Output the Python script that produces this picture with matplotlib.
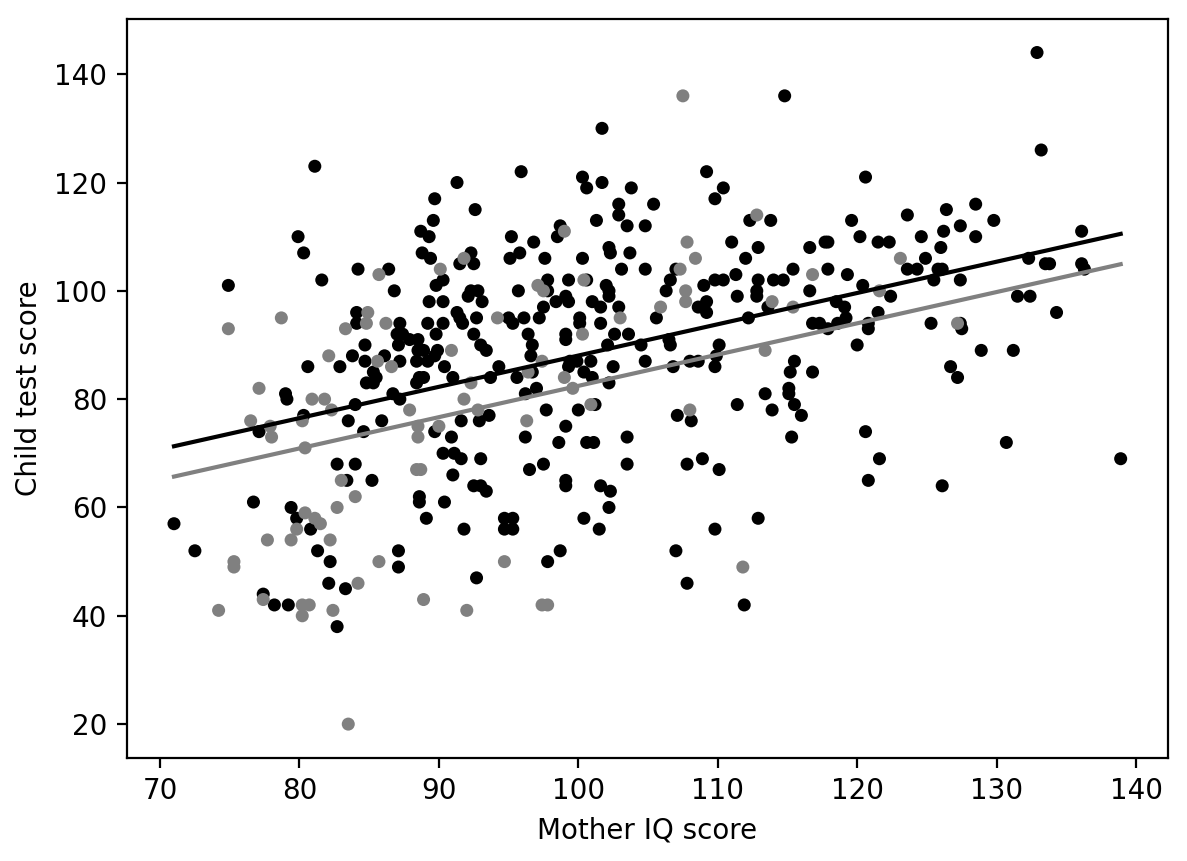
import numpy as np
import matplotlib
matplotlib.use("Agg")
import matplotlib.pyplot as plt

# mothers who finished high school (black points)
mom_iq_hs = [
    81.1, 91.3, 89.7, 92.6, 89.6, 88.7, 89.3, 79.9, 80.3, 88.8, 89.4, 92.3, 92.5, 91.5, 84.2, 86.4,
    74.9, 81.6, 86.8, 89.8, 90.3, 92.1, 89.3, 90.3, 91.3, 84.1, 84.1, 87.2, 89.2, 90.3, 91.5, 91.7,
    92.7, 87.0, 87.4, 87.9, 88.5, 89.8, 92.5, 84.7, 87.1, 88.5, 88.9, 89.9, 93.0, 83.8, 86.1, 84.7,
    87.2, 88.4, 89.2, 89.7, 80.6, 82.9, 90.4, 85.3, 85.5, 84.8, 85.3, 88.6, 88.4, 88.9, 91.0, 79.0,
    79.1, 86.7, 87.2, 84.0, 77.1, 80.3, 83.5, 84.6, 85.9, 89.7, 90.9, 91.6, 90.3, 91.1, 91.6,
    82.7, 84.0, 83.4, 85.2, 91.0, 92.5, 88.6, 88.6, 90.4, 89.1, 91.8, 76.7, 71.0, 72.5, 79.4, 79.8,
    80.8, 81.3, 82.2, 87.1, 87.1, 82.1, 83.3, 77.4, 78.2, 79.2, 82.7,
    101.7, 95.9, 100.3, 100.6, 101.7, 103.8, 109.2, 110.4, 109.8, 102.9, 102.9, 105.4, 101.3, 103.5,
    104.8, 112.3, 113.8, 98.7, 98.5, 95.2, 96.8, 95.8, 95.1, 97.6, 102.2, 102.3, 103.7, 100.3, 103.1,
    104.8, 111.0, 112.9, 112.0, 107.0, 106.6, 106.3, 111.3, 109.8, 110.4, 109.0, 112.9, 112.8, 112.8,
    111.4, 114.0, 113.6, 97.8, 99.3, 100.6, 102.0, 102.2, 102.2, 95.7, 97.8, 92.3, 92.8, 93.1, 98.4,
    99.1, 99.3, 101.0, 101.6, 97.5, 97.2, 102.9, 108.6, 109.2, 109.2, 105.6, 112.2, 95.0, 95.3, 96.1,
    100.1, 100.1, 101.6, 96.4, 96.7, 96.6, 93.4, 99.1, 99.1, 102.6, 103.6, 104.5, 106.5, 106.6, 102.1,
    110.1, 109.9, 104.8, 102.5, 100.9, 100.4, 101.0, 99.4, 99.9, 99.3, 106.8, 108.0, 108.6, 109.8,
    94.3, 95.6, 96.7, 93.7,
    102.2, 96.2, 97.0, 92.9, 93.6, 97.7, 100.0, 101.2, 99.1, 96.2, 98.6, 100.6, 101.1, 103.5, 93.0,
    96.5, 97.5, 103.5, 99.1, 99.1, 93.0, 93.4, 101.6, 102.3, 102.2, 94.7, 95.3, 94.7, 95.3, 100.4,
    101.5, 98.7, 97.8, 92.7, 107.1, 108.1, 111.4, 113.4, 113.9, 107.8, 108.9, 110.1, 112.9, 109.8,
    107.0, 107.8, 111.9,
    133.2, 120.6, 119.6, 123.6, 126.4, 128.5, 129.8, 127.4, 126.2, 120.2, 124.6, 128.5, 136.1, 116.6,
    117.7, 117.9, 121.5, 122.3, 126.0, 124.9, 123.6, 124.3, 125.8, 126.1, 132.3, 133.5, 133.8, 136.1,
    136.3, 115.4, 117.9, 114.7, 119.3, 125.5, 127.4, 120.4, 116.6, 122.4, 118.5, 119.1, 119.2, 118.6,
    121.5, 116.8, 117.3, 117.9, 120.8, 120.8, 125.3, 127.4, 127.5, 131.5, 132.4, 134.3, 120.0, 128.9,
    131.2, 115.5, 115.2, 116.8, 126.7, 127.2, 115.1, 115.1, 115.5, 116.0, 115.3, 120.6, 130.7,
    121.6, 120.8, 126.1, 138.9, 114.8, 132.9,
]
kid_score_hs = [
    123, 120, 117, 115, 113, 111, 110, 110, 107, 107, 106, 107, 105, 105, 104, 104,
    101, 102, 100, 101, 102, 99, 98, 98, 96, 96, 94, 94, 94, 94, 95, 94,
    95, 92, 92, 91, 91, 92, 92, 90, 90, 89, 89, 89, 90, 88, 88, 87,
    87, 87, 87, 88, 86, 86, 86, 85, 84, 83, 83, 84, 83, 84, 84, 81,
    80, 81, 80, 79, 74, 77, 76, 74, 76, 74, 73, 76, 70, 70, 69,
    68, 68, 65, 65, 66, 64, 62, 61, 61, 58, 56, 61, 57, 52, 60, 58,
    56, 52, 50, 52, 49, 46, 45, 44, 42, 42, 38,
    130, 122, 121, 119, 120, 119, 122, 119, 117, 116, 114, 116, 113, 112,
    112, 113, 113, 112, 110, 110, 109, 107, 106, 106, 108, 107, 107, 106, 104,
    104, 109, 108, 106, 104, 102, 100, 103, 102, 102, 101, 102, 100, 99,
    99, 102, 97, 102, 102, 102, 101, 100, 99, 100, 100, 100, 100, 98, 98,
    99, 98, 98, 97, 97, 95, 97, 97, 98, 96, 95, 95, 95, 94, 95,
    95, 94, 94, 92, 90, 88, 89, 92, 91, 92, 92, 90, 91, 90, 90,
    90, 88, 87, 86, 87, 85, 84, 87, 87, 86, 86, 87, 87, 86,
    86, 84, 85, 84,
    83, 81, 82, 76, 77, 78, 78, 79, 75, 73, 72, 72, 72, 73, 69,
    67, 68, 68, 65, 64, 64, 63, 64, 63, 60, 58, 58, 56, 56, 58,
    56, 52, 50, 47, 77, 76, 79, 81, 78, 68, 69, 67, 58, 56,
    52, 46, 42,
    126, 121, 113, 114, 115, 116, 113, 112, 111, 110, 110, 110, 111, 108,
    109, 109, 109, 109, 108, 106, 104, 104, 104, 104, 106, 105, 105, 105,
    104, 104, 104, 102, 103, 102, 102, 101, 100, 99, 98, 97, 95, 94,
    96, 94, 94, 93, 94, 93, 94, 94, 93, 99, 99, 96, 90, 89,
    89, 87, 85, 85, 86, 84, 82, 81, 79, 77, 73, 74, 72,
    69, 65, 64, 69, 136, 144,
]

# mothers who did not finish high school (gray points)
mom_iq_nohs = [
    91.8, 85.7, 90.1, 84.9, 84.8, 74.9, 78.7, 83.3, 86.2, 90.9, 82.1, 85.6, 86.6, 92.3, 77.1, 80.9,
    81.8, 82.3, 87.9, 91.8, 76.5, 77.9, 78.0, 80.2, 80.4, 88.5, 88.5, 90.0,
    83.0, 84.0, 82.7, 88.4, 88.7, 80.4, 81.1, 81.5, 79.8, 77.7, 79.4, 82.2, 75.3, 75.3, 85.7, 84.2,
    77.4, 74.2, 80.2, 80.7, 80.2, 82.4, 88.9, 92.0, 83.5,
    107.5, 112.8, 99.0, 107.8, 108.4, 107.3, 100.4, 97.1, 97.5, 105.9, 107.7, 107.7, 113.9, 94.2,
    103.0, 97.4, 100.3, 113.4, 96.4, 99.0,
    99.6, 92.8, 96.3, 100.9, 108.0, 94.7, 97.4, 97.8, 111.8,
    123.1, 116.8, 121.6, 115.4, 127.2,
]
kid_score_nohs = [
    106, 103, 104, 96, 94, 93, 95, 93, 94, 89, 88, 87, 86, 83, 82, 80,
    80, 78, 78, 80, 76, 75, 73, 76, 71, 75, 73, 75,
    65, 62, 60, 67, 67, 59, 58, 57, 56, 54, 54, 54, 50, 49, 50, 46,
    43, 41, 42, 42, 40, 41, 43, 41, 20,
    136, 114, 111, 109, 106, 104, 102, 101, 100, 97, 100, 98, 98, 95,
    95, 87, 92, 89, 85, 84,
    82, 78, 76, 79, 78, 50, 42, 42, 49,
    106, 103, 100, 97, 94,
]

# fitted lines: common slope, separate intercepts
slope = 0.5775
intercept_hs = 30.3
intercept_nohs = 24.7

fig = plt.figure(figsize=(5.935, 4.305), dpi=200)
ax = fig.add_subplot(111)
fig.subplots_adjust(left=0.1067, right=0.984, bottom=0.12, top=0.978)

ax.scatter(mom_iq_hs, kid_score_hs, s=22, color="black", edgecolors="none")
ax.scatter(mom_iq_nohs, kid_score_nohs, s=22, color="gray", edgecolors="none")

all_iq = np.array(mom_iq_hs + mom_iq_nohs)
x_line = np.array([all_iq.min(), all_iq.max()])
ax.plot(x_line, intercept_hs + slope * x_line, color="black")
ax.plot(x_line, intercept_nohs + slope * x_line, color="gray")

ax.set_xlabel("Mother IQ score")
ax.set_ylabel("Child test score")

fig.savefig("out.png", dpi=200)
